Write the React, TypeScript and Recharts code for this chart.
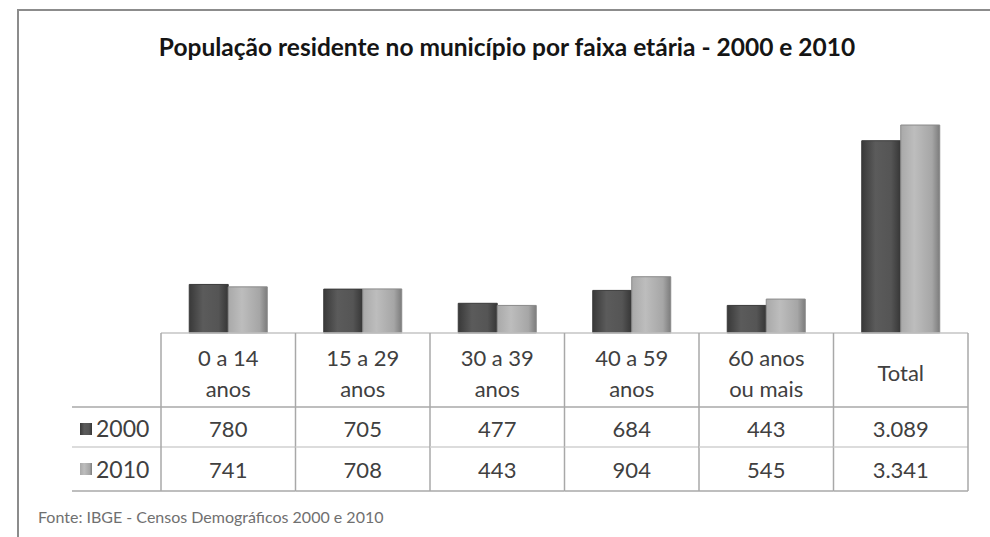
import { BarChart, Bar, XAxis, YAxis } from "recharts";

const categories = ["0 a 14 anos", "15 a 29 anos", "30 a 39 anos", "40 a 59 anos", "60 anos ou mais", "Total"];
const headerLines = [["0 a 14", "anos"], ["15 a 29", "anos"], ["30 a 39", "anos"], ["40 a 59", "anos"], ["60 anos", "ou mais"], ["Total"]];
const pop2000 = [780, 705, 477, 684, 443, 3089];
const pop2010 = [741, 708, 443, 904, 545, 3341];
const seriesNames = ["2000", "2010"];

const W = 990;
const H = 537;
const PLOT_LEFT = 161;
const PLOT_RIGHT = 968;
const BAND = (PLOT_RIGHT - PLOT_LEFT) / categories.length;
const FONT = "Lato, 'Open Sans', sans-serif";
const TEXT = "#404040";
const GRID = "#a8a8a8";

const data = categories.map((name, i) => ({ name, y2000: pop2000[i], y2010: pop2010[i] }));

// 3089 -> "3.089"
function fmt(v: number) {
  return String(v).replace(/\B(?=(\d{3})+(?!\d))/g, ".");
}

function TableTick(props: any) {
  const { x, y, payload } = props;
  const i = payload.index;
  const left = x - BAND / 2;
  const right = x + BAND / 2;
  const lines = headerLines[i];
  const rowX1 = i === 0 ? 72 : left;
  return (
    <g fontFamily={FONT} fontSize={22} fill={TEXT}>
      {lines.length === 2 ? (
        <>
          <text x={x} y={y + 24} textAnchor="middle" dominantBaseline="central">{lines[0]}</text>
          <text x={x} y={y + 55} textAnchor="middle" dominantBaseline="central">{lines[1]}</text>
        </>
      ) : (
        <text x={x} y={y + 39} textAnchor="middle" dominantBaseline="central">{lines[0]}</text>
      )}
      <text x={x} y={y + 95} textAnchor="middle" dominantBaseline="central">{fmt(pop2000[i])}</text>
      <text x={x} y={y + 136} textAnchor="middle" dominantBaseline="central">{fmt(pop2010[i])}</text>
      <line x1={rowX1} x2={right} y1={y + 74} y2={y + 74} stroke={GRID} strokeWidth={1.5} />
      <line x1={rowX1} x2={right} y1={y + 114} y2={y + 114} stroke="#d0d0d0" strokeWidth={1.5} />
      <line x1={rowX1} x2={right} y1={y + 158} y2={y + 158} stroke={GRID} strokeWidth={1.5} />
      <line x1={right} x2={right} y1={y} y2={y + 158} stroke={GRID} strokeWidth={1.5} />
      {i === 0 && (
        <>
          <line x1={left} x2={left} y1={y} y2={y + 158} stroke={GRID} strokeWidth={1.5} />
          <rect x={80} y={y + 90} width={12} height={12} fill="url(#g2000)" />
          <text x={96} y={y + 95} dominantBaseline="central" fontSize={23}>{seriesNames[0]}</text>
          <rect x={80} y={y + 130} width={12} height={12} fill="url(#g2010)" />
          <text x={96} y={y + 136} dominantBaseline="central" fontSize={23}>{seriesNames[1]}</text>
        </>
      )}
    </g>
  );
}

export default function App() {
  return (
    <div style={{ position: "absolute", left: 0, top: 0, width: W, height: H, background: "#fff", overflow: "hidden" }}>
      <div
        style={{
          position: "absolute",
          left: 17,
          top: 9,
          width: W - 17,
          height: H - 9,
          borderTop: "2px solid #8c8c8c",
          borderLeft: "2px solid #8c8c8c",
        }}
      />
      <div
        style={{
          position: "absolute",
          left: 12,
          width: W,
          top: 32,
          lineHeight: "30px",
          textAlign: "center",
          fontFamily: FONT,
          fontWeight: 700,
          fontSize: 24.5,
          color: "#151515",
          whiteSpace: "nowrap",
        }}
      >
        População residente no município por faixa etária - 2000 e 2010
      </div>
      <div style={{ position: "absolute", left: 0, top: 0 }}>
        <BarChart
          width={W}
          height={H}
          data={data}
          margin={{ top: 84, right: W - PLOT_RIGHT, left: PLOT_LEFT, bottom: 174 }}
          barGap={0}
          barCategoryGap="21%"
        >
          <defs>
            <linearGradient id="g2000" x1="0" y1="0" x2="1" y2="0">
              <stop offset="0%" stopColor="#393939" />
              <stop offset="35%" stopColor="#5b5b5b" />
              <stop offset="75%" stopColor="#555555" />
              <stop offset="100%" stopColor="#363636" />
            </linearGradient>
            <linearGradient id="g2010" x1="0" y1="0" x2="1" y2="0">
              <stop offset="0%" stopColor="#a9a9a9" />
              <stop offset="35%" stopColor="#bdbdbd" />
              <stop offset="80%" stopColor="#a6a6a6" />
              <stop offset="100%" stopColor="#7c7c7c" />
            </linearGradient>
          </defs>
          <YAxis domain={[0, 4000]} width={0} tick={false} tickLine={false} axisLine={{ stroke: GRID, strokeWidth: 1.5 }} />
          <XAxis
            dataKey="name"
            interval={0}
            tickLine={false}
            tickSize={0}
            tickMargin={0}
            axisLine={{ stroke: "#c4c4c4", strokeWidth: 1.5 }}
            tick={<TableTick />}
          />
          <Bar dataKey="y2000" name={seriesNames[0]} fill="url(#g2000)" stroke="#3a3a3a" strokeWidth={1} isAnimationActive={false} />
          <Bar dataKey="y2010" name={seriesNames[1]} fill="url(#g2010)" stroke="#8a8a8a" strokeWidth={1} isAnimationActive={false} />
        </BarChart>
      </div>
      <div
        style={{
          position: "absolute",
          left: 38,
          top: 507,
          fontFamily: FONT,
          fontSize: 16,
          lineHeight: "20px",
          color: "#707070",
          whiteSpace: "nowrap",
        }}
      >
        Fonte: IBGE - Censos Demográficos 2000 e 2010
      </div>
    </div>
  );
}
